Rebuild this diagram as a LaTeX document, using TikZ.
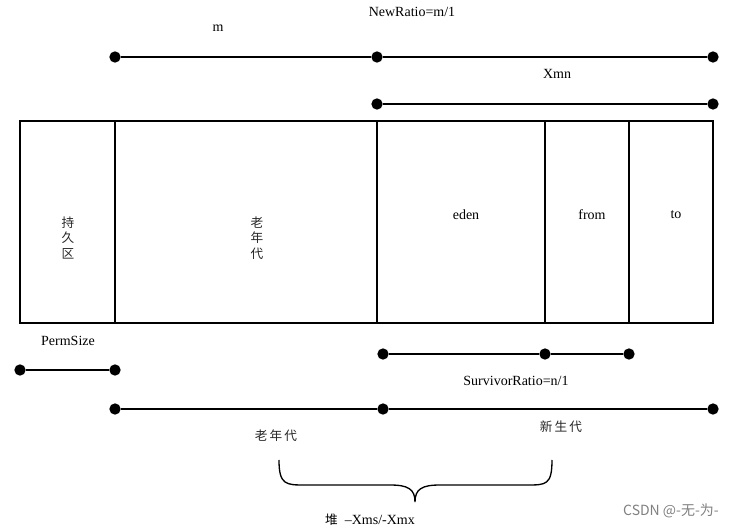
\documentclass[tikz,border=0pt]{standalone}
\usepackage{fontspec}
\setmainfont{Liberation Serif}
\newfontfamily\cjk{Noto Sans CJK SC}
\begin{document}
\begin{tikzpicture}[x=0.75pt,y=-0.75pt,
  cell/.style={draw, line width=1pt, minimum height=151.5pt, inner sep=0pt},
  dot/.style={circle, fill=black, inner sep=0pt, minimum size=8.5pt},
  seg/.style={line width=1.3pt},
  lbl/.style={font=\fontsize{10.5}{12}\selectfont, inner sep=0pt},
  vlbl/.style={font=\cjk\fontsize{9.5}{11.6}\selectfont, align=center, inner sep=0pt, text=black!85},
  clbl/.style={font=\cjk\fontsize{9.5}{11.6}\selectfont, inner sep=0pt, text=black!85}]
\useasboundingbox (0,0) rectangle (736,528);
% cells
\node[cell, minimum width=71.25pt] (perm) at (67.5,222) {};
\node[cell, minimum width=196.5pt] (old) at (246,222) {};
\node[cell, minimum width=126pt] (eden) at (461,222) {};
\node[cell, minimum width=63pt] (from) at (587,222) {};
\node[cell, minimum width=63pt] (to) at (671,222) {};
% cell labels
\node[vlbl] (permL) at (68,238) {持\\久\\区};
\node[vlbl] (oldL) at (257,238) {老\\年\\代};
\node[lbl] (edenL) at (466,215) {eden};
\node[lbl] (fromL) at (592,215) {from};
\node[lbl] (toL) at (676,215) {to};
% top dimension lines
\node[dot] (t1) at (115,57) {};
\node[dot] (t2) at (377,57) {};
\node[dot] (t3) at (713,57) {};
\draw[seg] (t1) -- (t2) -- (t3);
\node[lbl] (mL) at (218,28) {m};
\node[lbl] (nrL) at (412,12) {NewRatio=m/1};
\node[dot] (x1) at (377,104) {};
\node[dot] (x2) at (713,104) {};
\draw[seg] (x1) -- (x2);
\node[lbl] (xmnL) at (557,74) {Xmn};
% bottom
\node[lbl] (psL) at (68,341) {PermSize};
\node[dot] (p1) at (20,370) {};
\node[dot] (p2) at (115,370) {};
\draw[seg] (p1) -- (p2);
\node[dot] (s1) at (383,354) {};
\node[dot] (s2) at (545,354) {};
\node[dot] (s3) at (629,354) {};
\draw[seg] (s1) -- (s2) -- (s3);
\node[lbl] (srL) at (516,381) {SurvivorRatio=n/1};
\node[dot] (b1) at (115,409) {};
\node[dot] (b2) at (383,409) {};
\node[dot] (b3) at (713,409) {};
\draw[seg] (b1) -- (b2) -- (b3);
\node[clbl] (oldB) at (276,436) {老\,年\,代};
\node[clbl] (newB) at (561,427) {新\,生\,代};
% brace
\draw[line width=1pt] (279,460) .. controls (279,485) and (286,485) .. (305,485) -- (390,485)
  .. controls (408,485) and (415,489) .. (415,502)
  .. controls (415,489) and (422,485) .. (440,485) -- (527,485)
  .. controls (546,485) and (552,485) .. (552,460);
\node[lbl] (heapL) at (370,520) {{\cjk\fontsize{9.5}{11}\selectfont 堆}\ \ –Xms/-Xmx};
\node[font=\cjk\fontsize{10.5}{12}\selectfont, text=black!50, inner sep=0pt] (wm) at (671,511) {CSDN @-无-为-};
\end{tikzpicture}
\end{document}
